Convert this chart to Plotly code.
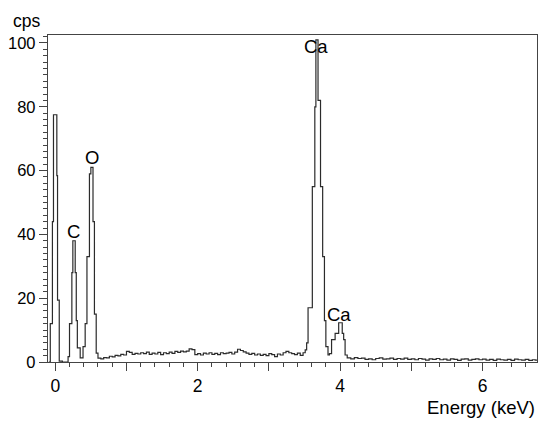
import plotly.graph_objects as go

# EDS spectrum: step starts (keV) and counts per second
energy_keV = [
    -0.09, -0.07, -0.04, -0.025, 0.022, 0.032, 0.056, 0.10,
    0.18, 0.20, 0.233, 0.247, 0.28, 0.295, 0.31, 0.35,
    0.39, 0.42, 0.445, 0.48, 0.50, 0.53, 0.55, 0.575,
    0.60, 0.64, 0.68, 0.72, 0.76, 0.80, 0.84, 0.88, 0.92, 0.96,
    1.00, 1.04, 1.08, 1.12, 1.16, 1.20, 1.24, 1.28, 1.32, 1.36,
    1.40, 1.44, 1.48, 1.52, 1.56, 1.60, 1.64, 1.68, 1.72, 1.76,
    1.80, 1.84, 1.88, 1.92, 1.96, 2.00, 2.04, 2.08, 2.12, 2.16,
    2.20, 2.24, 2.28, 2.32, 2.36, 2.40, 2.44, 2.48, 2.52, 2.56,
    2.60, 2.64, 2.68, 2.72, 2.76, 2.80, 2.84, 2.88, 2.92, 2.96,
    3.00, 3.04, 3.08, 3.12, 3.16, 3.20, 3.24, 3.28, 3.32, 3.36,
    3.40, 3.44, 3.48,
    3.51, 3.53, 3.55, 3.61, 3.645, 3.66, 3.69, 3.725, 3.755, 3.78,
    3.80, 3.83, 3.85, 3.88, 3.93, 3.98, 4.03, 4.05, 4.07, 4.10,
    4.15, 4.20, 4.25, 4.30, 4.35, 4.40, 4.45, 4.50, 4.55, 4.60,
    4.65, 4.70, 4.75, 4.80, 4.85, 4.90, 4.95, 5.00, 5.05, 5.10,
    5.15, 5.20, 5.25, 5.30, 5.35, 5.40, 5.45, 5.50, 5.55, 5.60,
    5.65, 5.70, 5.75, 5.80, 5.85, 5.90, 5.95, 6.00, 6.05, 6.10,
    6.15, 6.20, 6.25, 6.30, 6.35, 6.40, 6.45, 6.50, 6.55, 6.60,
    6.65, 6.70, 6.74, 6.765,
]
counts_cps = [
    0.0, 12, 44, 77.5, 58.4, 19.4, 0.3, 0.0,
    1.7, 12, 28, 38, 28, 13, 4.4, 1.3,
    4.8, 12, 33, 59, 61, 44, 15, 2.8,
    1.2, 1.0, 1.4, 1.3, 1.8, 1.6, 2.1, 1.9, 2.4, 2.2,
    3.3, 3.0, 2.4, 2.7, 2.5, 2.9, 2.6, 3.1, 2.4, 2.8,
    2.5, 3.0, 2.3, 2.9, 2.6, 3.1, 2.7, 3.3, 3.0, 3.4,
    3.2, 3.4, 4.1, 3.9, 2.3, 2.6, 2.2, 2.8, 2.5, 2.9,
    2.4, 2.7, 2.3, 2.9, 2.6, 2.8, 3.0, 2.5, 3.1, 4.0,
    3.6, 3.2, 2.8, 2.4, 2.7, 2.2, 2.5, 2.1, 2.4, 2.0,
    2.6, 2.3, 1.7, 2.5, 2.2, 2.9, 3.3, 2.9, 2.6, 2.3,
    2.8, 2.1, 2.9,
    3.8, 6, 17, 55, 80, 101, 82, 55, 33, 13,
    4.8, 2.2, 2.6, 7, 9, 12.3, 9, 7, 2.2, 1.3,
    1.0, 1.4, 1.1, 1.2, 0.8, 1.0, 0.7, 1.1, 1.3, 0.9,
    1.0, 1.2, 0.8, 1.1, 0.9, 1.2, 0.8, 1.0, 0.7, 1.1,
    0.9, 0.6, 1.0, 0.8, 1.1, 0.7, 0.9, 0.6, 1.0, 0.8,
    0.5, 0.9, 1.0, 0.6, 0.8, 1.0, 0.7, 0.9, 0.6, 0.8,
    0.5, 0.9, 0.7, 0.6, 0.8, 0.5, 0.9, 0.7, 0.6, 0.8,
    0.5, 0.7, 0.6, 0.6,
]

peak_labels = ["C", "O", "Ca", "Ca"]
peak_label_x = [0.257, 0.515, 3.66, 3.98]
peak_label_y = [41, 64, 98.8, 15]

FONT = "Liberation Sans, Arial, sans-serif"
AX = "#444444"

fig = go.Figure()
fig.add_trace(go.Scatter(
    x=energy_keV, y=counts_cps, mode="lines", line_shape="hv",
    line=dict(color="#2b2b2b", width=1.2), showlegend=False,
))

for t, xv, yv in zip(peak_labels, peak_label_x, peak_label_y):
    fig.add_annotation(x=xv, y=yv, text=t, showarrow=False,
                       font=dict(family=FONT, size=18.5, color="black"),
                       xanchor="center", yanchor="middle")

fig.add_annotation(xref="paper", yref="paper", x=-0.076, y=1.08, text="cps",
                   showarrow=False, xanchor="left", yanchor="top",
                   font=dict(family=FONT, size=17.5, color="black"))
fig.add_annotation(xref="paper", yref="paper", x=1.0, y=-0.138, text="Energy (keV)",
                   showarrow=False, xanchor="right", yanchor="middle",
                   font=dict(family=FONT, size=18.5, color="black"))

fig.update_layout(
    width=542, height=421,
    margin=dict(l=40, r=13, t=27, b=67, autoexpand=False),
    paper_bgcolor="white", plot_bgcolor="white",
    font=dict(family=FONT, size=17, color="black"),
    xaxis=dict(
        range=[-0.102, 6.765], showgrid=False, zeroline=False, automargin=False,
        showline=True, linecolor=AX, linewidth=1.3, mirror=True,
        tickmode="linear", tick0=0, dtick=1,
        labelalias={"1": "", "3": "", "5": ""},
        ticks="outside", ticklen=8, tickwidth=1.2, tickcolor=AX,
        tickfont=dict(family=FONT, size=17.5, color="black"),
        minor=dict(tickmode="linear", tick0=0, dtick=0.2, ticks="outside",
                   ticklen=4, tickwidth=1, tickcolor=AX, showgrid=False),
    ),
    yaxis=dict(
        range=[0, 102.5], showgrid=False, zeroline=False, automargin=False,
        showline=True, linecolor=AX, linewidth=1.3, mirror=True,
        tickmode="linear", tick0=0, dtick=20,
        ticks="outside", ticklen=8, tickwidth=1.2, tickcolor=AX,
        tickfont=dict(family=FONT, size=16.5, color="black"),
        minor=dict(tickmode="linear", tick0=0, dtick=2, ticks="outside",
                   ticklen=4, tickwidth=1, tickcolor=AX, showgrid=False),
    ),
)

fig.write_html("out.html")
